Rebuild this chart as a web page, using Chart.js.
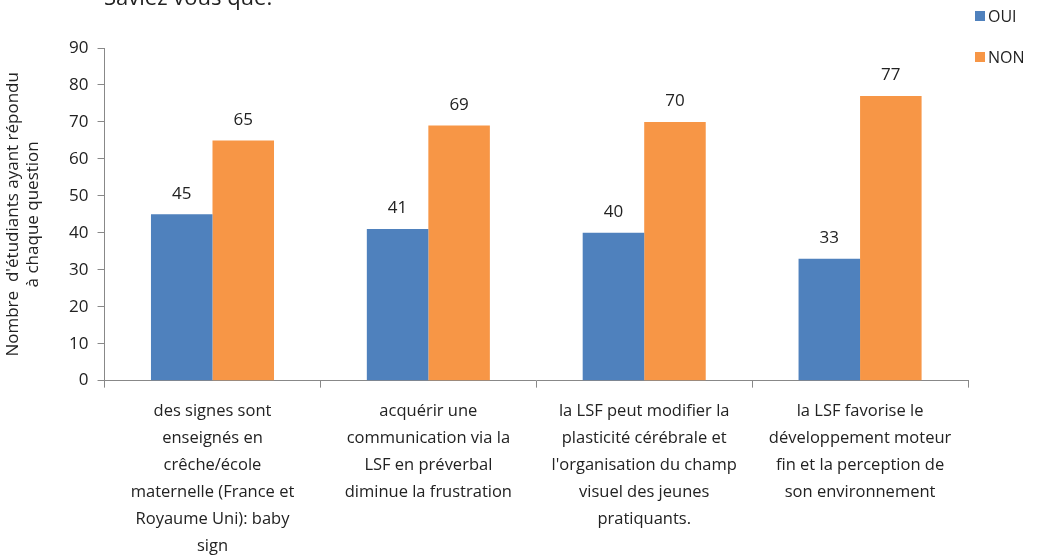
<!DOCTYPE html>
<html>
<head>
    <title>Saviez vous que</title>
    <style>
        body { margin: 0; background: #fff; }
        #wrap { position: relative; width: 1040px; height: 555px; overflow: hidden; }
        #title { position: absolute; left: 104px; top: -19px; font: 22px "Open Sans", sans-serif; color: #222; }
        #legend { position: absolute; left: 975px; top: 5px; font: 16px "Open Sans", sans-serif; color: #222; }
        #legend div { height: 41px; display: flex; align-items: flex-start; }
        #legend span.box { width: 10px; height: 10px; margin: 6px 3px 0 0; display: inline-block; }
    </style>
</head>
<body>
<div id="wrap">
    <canvas id="chart" width="1040" height="555"></canvas>
    <div id="title">Saviez vous que:</div>
    <div id="legend"></div>
</div>

<script src="https://cdn.jsdelivr.net/npm/chart.js"></script>
<script>
    const questions = [
        ['des signes sont', 'enseignés en', 'crêche/école', 'maternelle (France et', 'Royaume Uni): baby', 'sign'],
        ['acquérir une', 'communication via la', 'LSF en préverbal', 'diminue la frustration'],
        ['la LSF peut modifier la', 'plasticité cérébrale et', "l'organisation du champ", 'visuel des jeunes', 'pratiquants.'],
        ['la LSF favorise le', 'développement moteur', 'fin et la perception de', 'son environnement']
    ];
    const oui = [45, 41, 40, 33];
    const non = [65, 69, 70, 77];
    const seriesNames = ['OUI', 'NON'];
    const seriesColors = ['#4F81BD', '#F79646'];
    const yTitle = ["Nombre  d'étudiants ayant répondu", 'à chaque question'];

    // values on top of each bar
    const valueLabels = {
        id: 'valueLabels',
        afterDatasetsDraw(chart) {
            const ctx = chart.ctx;
            ctx.save();
            ctx.font = '17px "Open Sans", sans-serif';
            ctx.fillStyle = '#222';
            ctx.textAlign = 'center';
            ctx.textBaseline = 'bottom';
            chart.data.datasets.forEach((ds, i) => {
                chart.getDatasetMeta(i).data.forEach((bar, j) => {
                    ctx.fillText(ds.data[j], bar.x, bar.y - 12);
                });
            });
            ctx.restore();
        }
    };

    const chart = new Chart(document.getElementById('chart'), {
        type: 'bar',
        data: {
            labels: questions,
            datasets: [
                { label: seriesNames[0], data: oui, backgroundColor: seriesColors[0] },
                { label: seriesNames[1], data: non, backgroundColor: seriesColors[1] }
            ]
        },
        options: {
            responsive: false,
            animation: false,
            layout: { padding: { top: 48, right: 72, left: 3, bottom: -15 } },
            datasets: { bar: { categoryPercentage: 0.57, barPercentage: 1.0 } },
            plugins: {
                legend: { display: false },
                tooltip: { enabled: false }
            },
            scales: {
                x: {
                    grid: { offset: true, drawOnChartArea: false, tickLength: 7, color: '#888' },
                    border: { color: '#888' },
                    ticks: {
                        color: '#222',
                        font: { family: 'Open Sans', size: 16.5, lineHeight: 1.64 },
                        maxRotation: 0,
                        autoSkip: false,
                        padding: 10
                    }
                },
                y: {
                    min: 0,
                    max: 90,
                    ticks: { stepSize: 10, color: '#222', font: { family: 'Open Sans', size: 17 }, padding: 9 },
                    grid: { drawOnChartArea: false, tickLength: 7, color: '#888' },
                    border: { color: '#888' },
                    title: {
                        display: true,
                        text: yTitle,
                        color: '#222',
                        font: { family: 'Open Sans', size: 17, lineHeight: 1.18 },
                        padding: { top: 0, bottom: 17 }
                    }
                }
            }
        },
        plugins: [valueLabels]
    });

    // legend built from the datasets
    document.getElementById('legend').innerHTML = chart.data.datasets.map(ds =>
        `<div><span class="box" style="background:${ds.backgroundColor}"></span>${ds.label}</div>`
    ).join('');
</script>
</body>
</html>
